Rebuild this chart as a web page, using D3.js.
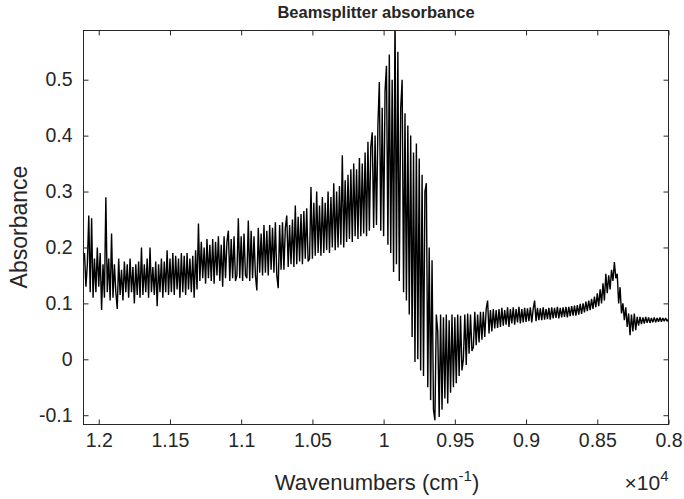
<!DOCTYPE html>
<html>
<head>
<meta charset="utf-8">
<script src="https://cdn.jsdelivr.net/npm/d3@7"></script>
<style>
  body { margin: 0; background: #fff; }
  text { font-family: "Liberation Sans", Arial, Helvetica, sans-serif; fill: #262626; }
</style>
</head>
<body>
<svg id="chart" width="684" height="499"></svg>
<script>
const waveStart = 12100;
const waveStep = 10;
const absorbance = [
  0.19, 0.13, 0.17, 0.257, 0.12, 0.252, 0.11, 0.18, 0.12, 0.2,
  0.13, 0.19, 0.088, 0.17, 0.11, 0.29, 0.12, 0.18, 0.105, 0.225,
  0.11, 0.17, 0.12, 0.09, 0.18, 0.115, 0.16, 0.105, 0.175, 0.12,
  0.17, 0.11, 0.18, 0.12, 0.165, 0.1, 0.17, 0.115, 0.175, 0.11,
  0.2, 0.115, 0.17, 0.12, 0.18, 0.11, 0.2, 0.12, 0.165, 0.115,
  0.175, 0.095, 0.17, 0.12, 0.18, 0.11, 0.175, 0.12, 0.195, 0.115,
  0.18, 0.12, 0.19, 0.115, 0.185, 0.125, 0.18, 0.11, 0.19, 0.12,
  0.185, 0.115, 0.19, 0.125, 0.18, 0.12, 0.185, 0.11, 0.195, 0.125,
  0.243, 0.14, 0.21, 0.145, 0.2, 0.135, 0.215, 0.145, 0.205, 0.14,
  0.215, 0.135, 0.21, 0.15, 0.22, 0.14, 0.205, 0.13, 0.22, 0.145,
  0.21, 0.23, 0.14, 0.215, 0.145, 0.22, 0.14, 0.15, 0.252, 0.145,
  0.22, 0.14, 0.225, 0.15, 0.145, 0.248, 0.14, 0.23, 0.145, 0.22,
  0.15, 0.123, 0.235, 0.155, 0.225, 0.15, 0.24, 0.155, 0.23, 0.15,
  0.24, 0.16, 0.235, 0.155, 0.245, 0.15, 0.127, 0.24, 0.16, 0.245,
  0.16, 0.235, 0.257, 0.165, 0.24, 0.17, 0.25, 0.165, 0.275, 0.17,
  0.255, 0.175, 0.26, 0.17, 0.265, 0.18, 0.27, 0.175, 0.18, 0.308,
  0.18, 0.28, 0.185, 0.3, 0.19, 0.275, 0.185, 0.29, 0.19, 0.28,
  0.195, 0.3, 0.19, 0.29, 0.2, 0.315, 0.195, 0.3, 0.2, 0.31,
  0.205, 0.365, 0.2, 0.32, 0.21, 0.33, 0.215, 0.34, 0.21, 0.35,
  0.22, 0.34, 0.215, 0.36, 0.22, 0.35, 0.225, 0.37, 0.22, 0.389,
  0.23, 0.38, 0.406, 0.235, 0.4, 0.24, 0.42, 0.496, 0.23, 0.45,
  0.22, 0.48, 0.525, 0.205, 0.545, 0.19, 0.5, 0.156, 0.62, 0.17,
  0.55, 0.14, 0.45, 0.5, 0.12, 0.44, 0.105, 0.418, 0.08, 0.4,
  0.04, 0.37, -0.005, 0.386, 0.0, 0.359, -0.02, 0.33, -0.03, 0.3,
  0.315, -0.05, 0.2, -0.073, 0.177, -0.09, -0.109, 0.08, 0.05, -0.103,
  0.08, -0.09, 0.075, -0.07, 0.08, -0.079, 0.07, -0.06, 0.08, -0.05,
  0.075, -0.043, 0.08, -0.03, 0.078, -0.02, 0.0, 0.08, -0.01, 0.082,
  0.01, 0.08, 0.015, 0.022, 0.085, 0.025, 0.08, 0.03, 0.085, 0.035,
  0.085, 0.04, 0.09, 0.105, 0.046, 0.088, 0.05, 0.09, 0.055, 0.088,
  0.056, 0.09, 0.058, 0.092, 0.06, 0.088, 0.062, 0.093, 0.058, 0.09,
  0.064, 0.093, 0.062, 0.09, 0.066, 0.094, 0.064, 0.09, 0.066, 0.092,
  0.067, 0.091, 0.068, 0.093, 0.066, 0.09, 0.105, 0.068, 0.092, 0.07,
  0.091, 0.07, 0.093, 0.071, 0.09, 0.072, 0.092, 0.071, 0.093, 0.073,
  0.092, 0.074, 0.094, 0.073, 0.092, 0.075, 0.093, 0.076, 0.094, 0.075,
  0.094, 0.077, 0.095, 0.078, 0.096, 0.078, 0.097, 0.08, 0.099, 0.081,
  0.1, 0.084, 0.103, 0.086, 0.105, 0.088, 0.108, 0.09, 0.112, 0.093,
  0.118, 0.095, 0.125, 0.1, 0.136, 0.105, 0.153, 0.118, 0.15, 0.125,
  0.16, 0.14, 0.174, 0.145, 0.153, 0.1, 0.129, 0.082, 0.1, 0.07,
  0.093, 0.058, 0.082, 0.043, 0.08, 0.05, 0.082, 0.052, 0.076, 0.06,
  0.076, 0.063, 0.075, 0.064, 0.076, 0.065, 0.075, 0.065, 0.074, 0.066,
  0.075, 0.066, 0.074, 0.067, 0.075, 0.067, 0.074, 0.068, 0.074, 0.068,
  0.072
];
const wavenumbers = absorbance.map((d, i) => waveStart - i * waveStep);
const spectrum = wavenumbers.map((w, i) => ({ wn: w, a: absorbance[i] }));

const xTicks = [12000, 11500, 11000, 10500, 10000, 9500, 9000, 8500, 8000];
const yTicks = [-0.1, 0, 0.1, 0.2, 0.3, 0.4, 0.5];

const svg = d3.select('#chart');
const plotL = 83.5, plotR = 668.5, plotT = 30.5, plotB = 424.5;

const x = d3.scaleLinear().domain([12107, 8000]).range([plotL, plotR]);
const y = d3.scaleLinear().domain([-0.1166, 0.588]).range([plotB, plotT]);

svg.append('clipPath').attr('id', 'plotClip')
  .append('rect')
  .attr('x', plotL).attr('y', plotT)
  .attr('width', plotR - plotL).attr('height', plotB - plotT);

const line = d3.line()
  .x(d => x(d.wn))
  .y(d => y(d.a));

svg.append('path')
  .datum(spectrum)
  .attr('clip-path', 'url(#plotClip)')
  .attr('d', line)
  .attr('fill', 'none')
  .attr('stroke', '#000')
  .attr('stroke-width', 1.4)
  .attr('stroke-linejoin', 'miter')
  .attr('stroke-miterlimit', 2);

// axes, MATLAB style: ticks pointing inward on all four sides
const fmtX = v => String(+(v / 1e4).toFixed(2));
const fmtY = v => String(+v.toFixed(1));

svg.append('g')
  .attr('transform', `translate(0,${plotB})`)
  .call(d3.axisBottom(x).tickValues(xTicks).tickSizeInner(-5).tickSizeOuter(0).tickPadding(9).tickFormat(fmtX))
  .call(g => g.select('.domain').remove());
svg.append('g')
  .attr('transform', `translate(0,${plotT})`)
  .call(d3.axisTop(x).tickValues(xTicks).tickSizeInner(-5).tickSizeOuter(0).tickFormat(''))
  .call(g => g.select('.domain').remove());
svg.append('g')
  .attr('transform', `translate(${plotL},0)`)
  .call(d3.axisLeft(y).tickValues(yTicks).tickSizeInner(-5).tickSizeOuter(0).tickPadding(11).tickFormat(fmtY))
  .call(g => g.select('.domain').remove());
svg.append('g')
  .attr('transform', `translate(${plotR},0)`)
  .call(d3.axisRight(y).tickValues(yTicks).tickSizeInner(-5).tickSizeOuter(0).tickFormat(''))
  .call(g => g.select('.domain').remove());

svg.selectAll('.tick line').attr('stroke', '#262626');
svg.selectAll('.tick text')
  .attr('font-size', 19.5)
  .attr('font-family', '"Liberation Sans", Arial, sans-serif')
  .attr('fill', '#262626');

svg.append('rect')
  .attr('x', plotL).attr('y', plotT)
  .attr('width', plotR - plotL).attr('height', plotB - plotT)
  .attr('fill', 'none')
  .attr('stroke', '#262626')
  .attr('stroke-width', 1);

// title and labels
svg.append('text')
  .attr('x', 376).attr('y', 18)
  .attr('text-anchor', 'middle')
  .attr('font-size', 16.5).attr('font-weight', 'bold')
  .attr('fill', '#000')
  .text('Beamsplitter absorbance');

const xl = svg.append('text')
  .attr('x', 377).attr('y', 490)
  .attr('text-anchor', 'middle')
  .attr('font-size', 22);
xl.append('tspan').text('Wavenumbers (cm');
xl.append('tspan').attr('dy', -9).attr('font-size', 15).text('-1');
xl.append('tspan').attr('dy', 9).text(')');

const ex = svg.append('text')
  .attr('x', plotR).attr('y', 490)
  .attr('text-anchor', 'end')
  .attr('font-size', 21);
ex.append('tspan').text('\u00d710');
ex.append('tspan').attr('dy', -9).attr('font-size', 15).text('4');

svg.append('text')
  .attr('transform', `translate(27,227) rotate(-90)`)
  .attr('text-anchor', 'middle')
  .attr('font-size', 23)
  .text('Absorbance');
</script>
</body>
</html>
